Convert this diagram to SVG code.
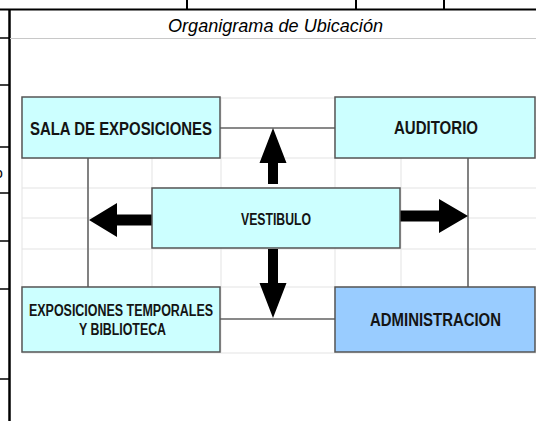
<svg xmlns="http://www.w3.org/2000/svg" width="536" height="421" viewBox="0 0 536 421">
<style>
.grid{stroke:#e3e3e3;stroke-width:1;fill:none}
.frame{stroke:#000;fill:none}
.box{fill:#CCFFFF;stroke:#555;stroke-width:1.5}
.admin{fill:#99CCFF;stroke:#555;stroke-width:1.5}
.conn{stroke:#666;stroke-width:1.6;fill:none}
.arrow{fill:#000}
.lbl{font-family:"Liberation Sans",Arial,sans-serif;font-weight:bold;fill:#141414;text-anchor:middle}
.title{font-family:"Liberation Sans",Arial,sans-serif;font-style:italic;fill:#000;text-anchor:middle}
</style>
<rect width="536" height="421" fill="#fff"/>
<g id="sheet">
<line class="frame" x1="0" y1="9.5" x2="536" y2="9.5" stroke-width="2"/>
<line class="frame" x1="187" y1="0" x2="187" y2="9" stroke-width="2"/>
<line class="frame" x1="356" y1="0" x2="356" y2="9" stroke-width="2"/>
<line class="frame" x1="444" y1="0" x2="444" y2="9" stroke-width="2"/>
<line class="frame" x1="9.5" y1="9" x2="9.5" y2="421" stroke-width="2.5"/>
<g stroke="#000" stroke-width="1.5">
<line x1="0" y1="38" x2="9" y2="38"/>
<line x1="0" y1="85" x2="9" y2="85"/>
<line x1="0" y1="147" x2="9" y2="147"/>
<line x1="0" y1="193" x2="9" y2="193"/>
<line x1="0" y1="241" x2="9" y2="241"/>
<line x1="0" y1="289" x2="9" y2="289"/>
<line x1="0" y1="379" x2="9" y2="379"/>
</g>
<text x="-5" y="178" font-family="Liberation Sans,Arial,sans-serif" font-size="14" fill="#000">o</text>
<line x1="10" y1="38.5" x2="536" y2="38.5" stroke="#c8c8c8" stroke-width="1.2"/>
<text class="title" x="275.5" y="32" font-size="19" textLength="215" lengthAdjust="spacingAndGlyphs">Organigrama de Ubicación</text>
<g class="grid">
<line x1="22" y1="98" x2="536" y2="98"/>
<line x1="22" y1="128" x2="536" y2="128"/>
<line x1="22" y1="158" x2="536" y2="158"/>
<line x1="22" y1="188" x2="536" y2="188"/>
<line x1="22" y1="218" x2="536" y2="218"/>
<line x1="22" y1="249" x2="536" y2="249"/>
<line x1="22" y1="287" x2="536" y2="287"/>
<line x1="22" y1="319" x2="536" y2="319"/>
<line x1="22" y1="353" x2="536" y2="353"/>
<line x1="22" y1="97" x2="22" y2="353"/>
<line x1="88" y1="97" x2="88" y2="353"/>
<line x1="152" y1="97" x2="152" y2="353"/>
<line x1="221" y1="97" x2="221" y2="353"/>
<line x1="335" y1="97" x2="335" y2="353"/>
<line x1="401" y1="97" x2="401" y2="353"/>
<line x1="468" y1="97" x2="468" y2="353"/>
</g>
</g>
<g id="connectors">
<line class="conn" x1="220" y1="128" x2="335" y2="128"/>
<line class="conn" x1="220" y1="319" x2="335" y2="319"/>
<line class="conn" x1="88" y1="158" x2="88" y2="287"/>
<line class="conn" x1="468" y1="158" x2="468" y2="287"/>
<polygon class="arrow" points="273,128 286.5,163 278,163 278,184 268,184 268,163 259.5,163"/>
<polygon class="arrow" points="273,318 286.5,283 278,283 278,249 268,249 268,283 259.5,283"/>
<polygon class="arrow" points="89,220 117,203 117,214.5 152,214.5 152,225.5 117,225.5 117,237"/>
<polygon class="arrow" points="468,216 439,199 439,210.5 400,210.5 400,221.5 439,221.5 439,233"/>
</g>
<g id="sala">
<rect class="box" x="22" y="97" width="198" height="61"/>
<text class="lbl" x="121" y="135" font-size="17.5" textLength="182" lengthAdjust="spacingAndGlyphs">SALA DE EXPOSICIONES</text>
</g>
<g id="auditorio">
<rect class="box" x="335" y="97" width="200" height="61"/>
<text class="lbl" x="436" y="134" font-size="17.5" textLength="84" lengthAdjust="spacingAndGlyphs">AUDITORIO</text>
</g>
<g id="vestibulo">
<rect class="box" x="152" y="188" width="248" height="60"/>
<text class="lbl" x="276" y="225" font-size="16" textLength="70" lengthAdjust="spacingAndGlyphs">VESTIBULO</text>
</g>
<g id="exposiciones">
<rect class="box" x="22" y="287" width="198" height="65"/>
<text class="lbl" x="121" y="316" font-size="16" textLength="184" lengthAdjust="spacingAndGlyphs">EXPOSICIONES TEMPORALES</text>
<text class="lbl" x="122.5" y="335" font-size="16" textLength="87" lengthAdjust="spacingAndGlyphs">Y BIBLIOTECA</text>
</g>
<g id="administracion">
<rect class="admin" x="335" y="287" width="200" height="65"/>
<text class="lbl" x="435.5" y="326" font-size="17.5" textLength="131" lengthAdjust="spacingAndGlyphs">ADMINISTRACION</text>
</g>
</svg>
